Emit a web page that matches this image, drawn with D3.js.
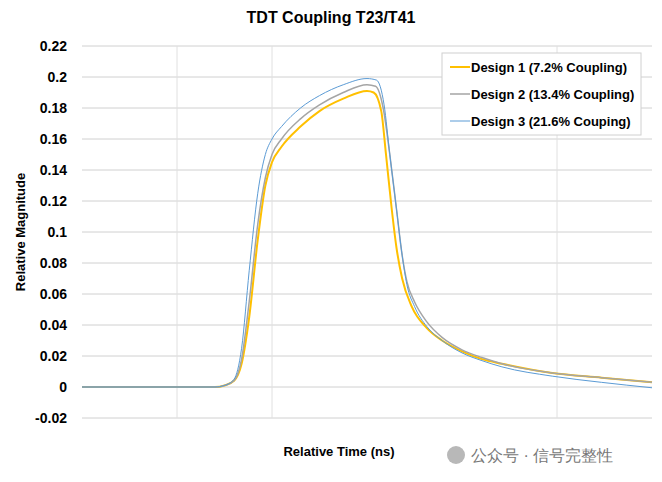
<!DOCTYPE html><html><head><meta charset="utf-8"><script src="https://cdn.jsdelivr.net/npm/d3@7"></script>
<style>body{margin:0;background:#fff}text{font-family:"Liberation Sans Narrow","Liberation Sans",Arial,sans-serif}</style></head><body><svg id="c" width="662" height="482"></svg>
<script>
const yTicks=[-0.02,0,0.02,0.04,0.06,0.08,0.1,0.12,0.14,0.16,0.18,0.2,0.22];
const xGrid=[1,2,5];
const names=["Design 1 (7.2% Coupling)","Design 2 (13.4% Coupling)","Design 3 (21.6% Couping)"];
const colors=["#ffc000","#a5a5a5","#5b9bd5"];
const widths=[2,1.5,1];
// time (ns, relative) and values
const time1=[0,1.4,1.5,1.6,1.68,1.76,1.85,1.93,2.0,2.1,2.3,2.5,2.75,3.0,3.07,3.15,3.2,3.26,3.31,3.37,3.47,3.63,3.79,4.0,4.21,4.42,4.95,5.47,6.0];
const design1=[0,0,0.001,0.004,0.015,0.045,0.095,0.13,0.145,0.155,0.168,0.178,0.186,0.191,0.19,0.178,0.15,0.115,0.09,0.07,0.052,0.038,0.03,0.023,0.018,0.015,0.009,0.006,0.003];
const time2=[0,1.4,1.5,1.6,1.68,1.76,1.85,1.93,2.0,2.1,2.3,2.5,2.75,3.0,3.09,3.17,3.24,3.31,3.37,3.42,3.5,3.63,3.79,4.0,4.21,4.42,4.95,5.47,6.0];
const design2=[0,0,0.001,0.004,0.018,0.055,0.105,0.135,0.15,0.16,0.173,0.182,0.19,0.195,0.194,0.18,0.15,0.115,0.085,0.068,0.055,0.042,0.032,0.024,0.019,0.015,0.009,0.006,0.003];
const time3=[0,1.4,1.5,1.6,1.68,1.76,1.85,1.93,2.0,2.1,2.3,2.5,2.75,3.0,3.1,3.18,3.24,3.31,3.37,3.42,3.5,3.63,3.79,4.0,4.21,4.42,4.95,5.47,6.0];
const design3=[0,0,0.001,0.005,0.025,0.075,0.125,0.15,0.16,0.168,0.18,0.188,0.195,0.199,0.198,0.182,0.15,0.115,0.085,0.066,0.052,0.039,0.03,0.022,0.017,0.013,0.007,0.003,-0.0005];
const series=[[time1,design1],[time2,design2],[time3,design3]];
const svg=d3.select("#c");
const x=d3.scaleLinear().domain([0,6]).range([82,652]);
const y=d3.scaleLinear().domain([-0.02,0.22]).range([418,46]);
svg.append("g").selectAll("line").data(yTicks).join("line").attr("x1",82).attr("x2",652).attr("y1",d=>y(d)).attr("y2",d=>y(d)).attr("stroke","#d0d0d0");
svg.append("g").selectAll("line").data(xGrid).join("line").attr("x1",d=>x(d)).attr("x2",d=>x(d)).attr("y1",46).attr("y2",418).attr("stroke","#e0e0e0");
svg.append("g").selectAll("text").data(yTicks).join("text").attr("x",67).attr("y",d=>y(d)+5).attr("text-anchor","end").attr("font-size",14).attr("font-weight","bold").text(d=>String(+d.toFixed(2)));
const line=d3.line().curve(d3.curveMonotoneX);
series.forEach((s,i)=>{svg.append("path").attr("d",line(s[0].map((t,j)=>[x(t),y(s[1][j])]))).attr("fill","none").attr("stroke",colors[i]).attr("stroke-width",widths[i]);});
svg.append("text").attr("x",331).attr("y",23).attr("text-anchor","middle").attr("font-size",16).attr("font-weight","bold").text("TDT  Coupling T23/T41");
svg.append("text").attr("transform","translate(25,232) rotate(-90)").attr("text-anchor","middle").attr("font-size",13).attr("font-weight","bold").text("Relative Magnitude");
svg.append("text").attr("x",339).attr("y",456).attr("text-anchor","middle").attr("font-size",13).attr("font-weight","bold").text("Relative Time (ns)");
const lg=svg.append("g");
lg.append("rect").attr("x",442).attr("y",53).attr("width",199).attr("height",82).attr("fill","#fff").attr("stroke","#d0d0d0");
names.forEach((n,i)=>{const yy=67+i*27;lg.append("line").attr("x1",450).attr("x2",470).attr("y1",yy).attr("y2",yy).attr("stroke",colors[i]).attr("stroke-width",widths[i]);
lg.append("text").attr("x",471).attr("y",yy+5).attr("font-size",13).attr("font-weight","bold").text(n);});
svg.append("circle").attr("cx",456).attr("cy",455).attr("r",9).attr("fill","#b8b8b8");
svg.append("text").attr("x",471).attr("y",461).attr("font-size",16).attr("fill","#777").attr("font-family","Noto Sans CJK SC").text("公众号 · 信号完整性");
</script></body></html>
